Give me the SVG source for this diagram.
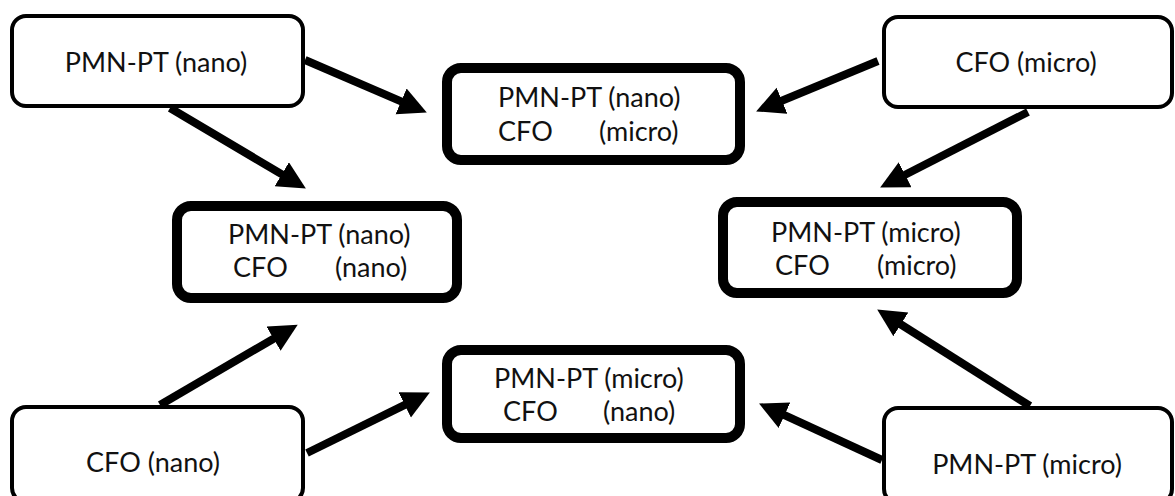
<svg xmlns="http://www.w3.org/2000/svg" width="1175" height="496" viewBox="0 0 1175 496">
<style>
  .thin { fill: #ffffff; stroke: #000000; stroke-width: 4; }
  .thick { fill: #ffffff; stroke: #000000; stroke-width: 10; }
  .lbl { font-family: Lato, "Open Sans", "Liberation Sans", sans-serif; font-size: 27px; fill: #111111; }
  .c { text-anchor: middle; }
  .arr { stroke: #000000; stroke-width: 8; fill: none; marker-end: url(#head); }
</style>
<defs>
  <marker id="head" markerUnits="userSpaceOnUse" markerWidth="32" markerHeight="30" refX="12" refY="14" orient="auto">
    <path d="M0,0 L28,14 L0,28 z" fill="#000000"/>
  </marker>
</defs>
<rect width="1175" height="496" fill="#ffffff"/>
<g id="connectors">
  <line class="arr" x1="305" y1="60" x2="412.1" y2="106.1"/>
  <line class="arr" x1="170" y1="108" x2="292.1" y2="180.4"/>
  <line class="arr" x1="878" y1="61" x2="770.9" y2="105.3"/>
  <line class="arr" x1="1028" y1="112" x2="894.4" y2="180.2"/>
  <line class="arr" x1="160" y1="405" x2="283.9" y2="332.7"/>
  <line class="arr" x1="307" y1="453" x2="415.5" y2="399.6"/>
  <line class="arr" x1="1030" y1="406" x2="890.7" y2="318.0"/>
  <line class="arr" x1="882" y1="460" x2="773.6" y2="410.2"/>
</g>
<g id="src-pmnpt-nano">
  <rect class="thin" x="12" y="16" width="291" height="90" rx="14"/>
  <text class="lbl c" x="156" y="72">PMN-PT (nano)</text>
</g>
<g id="src-cfo-micro">
  <rect class="thin" x="884" y="17" width="288" height="90" rx="14"/>
  <text class="lbl c" x="1026" y="72">CFO (micro)</text>
</g>
<g id="src-cfo-nano">
  <rect class="thin" x="12" y="407" width="291" height="95" rx="14"/>
  <text class="lbl c" x="153" y="472">CFO (nano)</text>
</g>
<g id="src-pmnpt-micro">
  <rect class="thin" x="884" y="408" width="288" height="95" rx="14"/>
  <text class="lbl c" x="1027" y="474">PMN-PT (micro)</text>
</g>
<g id="mix-nano-micro">
  <rect class="thick" x="447" y="68" width="293" height="92" rx="14"/>
  <text class="lbl"><tspan x="498" y="107">PMN-PT (nano)</tspan><tspan x="498" y="141">CFO</tspan><tspan x="599" y="141">(micro)</tspan></text>
</g>
<g id="mix-nano-nano">
  <rect class="thick" x="177" y="206" width="280" height="92" rx="14"/>
  <text class="lbl"><tspan x="228" y="244">PMN-PT (nano)</tspan><tspan x="233" y="277">CFO</tspan><tspan x="335" y="277">(nano)</tspan></text>
</g>
<g id="mix-micro-micro">
  <rect class="thick" x="723" y="202" width="294" height="91" rx="14"/>
  <text class="lbl"><tspan x="771" y="242">PMN-PT (micro)</tspan><tspan x="775" y="275">CFO</tspan><tspan x="877" y="275">(micro)</tspan></text>
</g>
<g id="mix-micro-nano">
  <rect class="thick" x="447" y="350" width="293" height="88" rx="14"/>
  <text class="lbl"><tspan x="494" y="388">PMN-PT (micro)</tspan><tspan x="503" y="421">CFO</tspan><tspan x="603" y="421">(nano)</tspan></text>
</g>
</svg>
